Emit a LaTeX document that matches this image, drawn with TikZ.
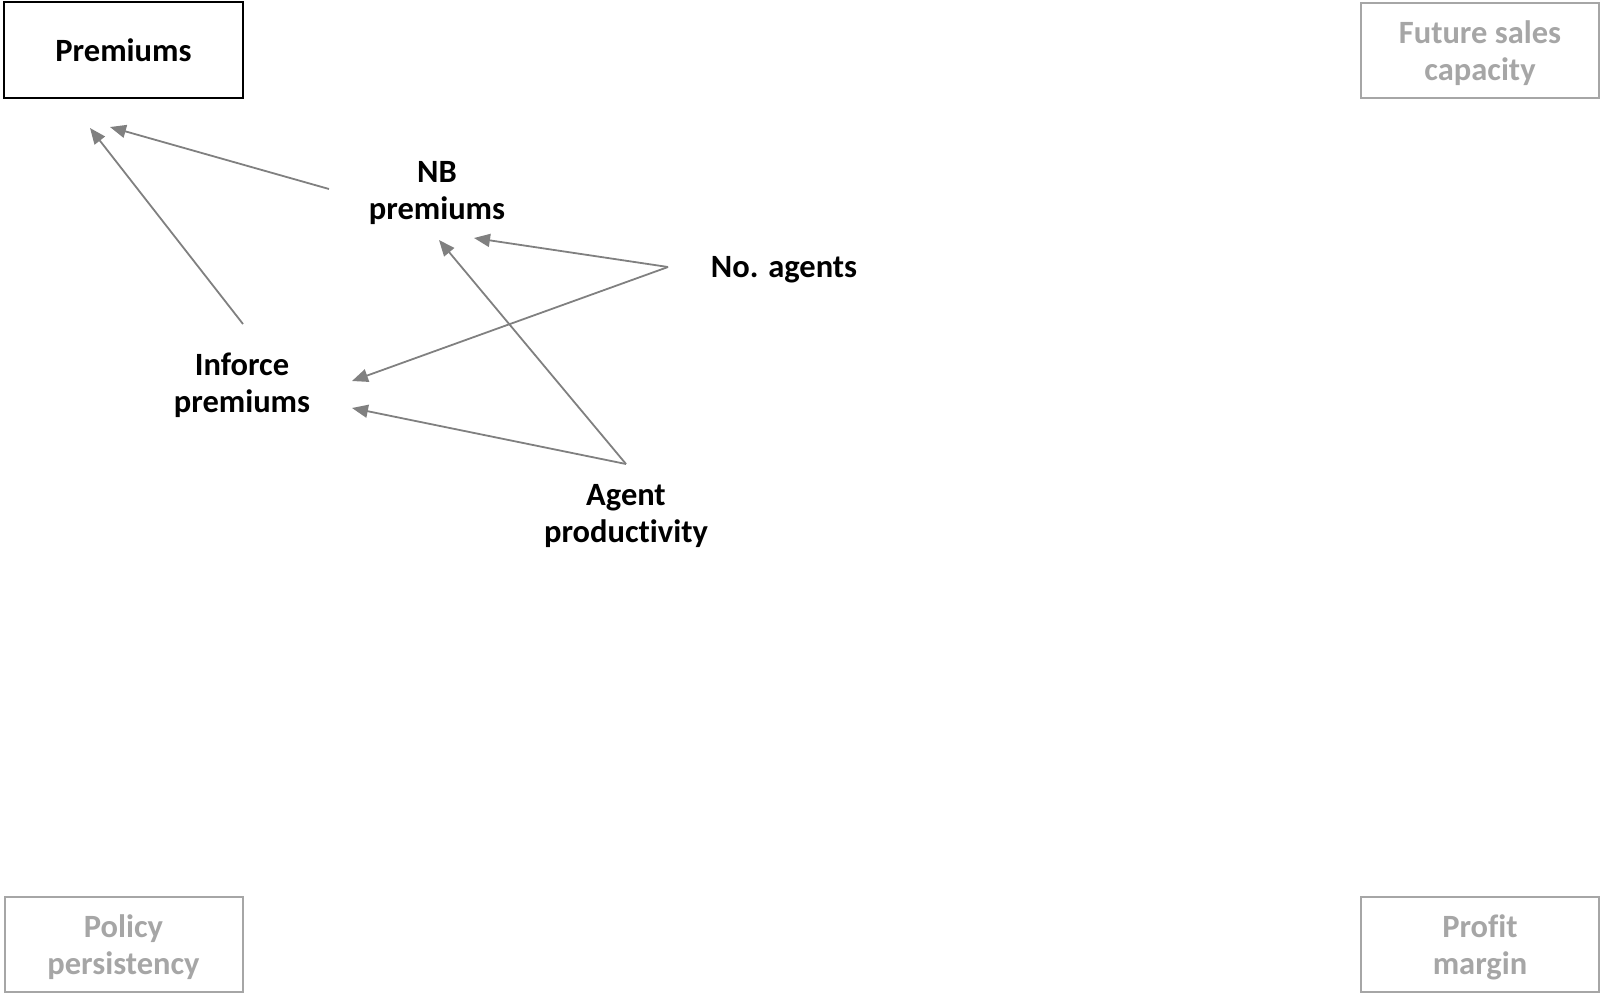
\documentclass[tikz,border=0pt]{standalone}
\usepackage{fontspec}
\setmainfont{Carlito}[Ligatures={NoCommon,NoContextual}, RawFeature={-liga;-clig;-dlig}]
\usetikzlibrary{arrows.meta}
\definecolor{linkgray}{HTML}{808080}
\definecolor{mutedgray}{HTML}{A6A6A6}
\begin{document}
\begin{tikzpicture}[x=1pt,y=-1pt,
  lbl/.style={font=\fontsize{32.5}{37}\selectfont\bfseries, align=center, inner sep=0pt},
  mutedlbl/.style={lbl, text=mutedgray},
  mainbox/.style={draw=black, line width=2pt, minimum width=239pt, minimum height=96pt, inner sep=0pt},
  sidebox/.style={draw=mutedgray, line width=2pt, minimum width=238pt, minimum height=95pt, inner sep=0pt},
  link/.style={draw=linkgray, line width=1.8pt, -{Triangle[length=16pt,width=13pt]}}]
\useasboundingbox (0,0) rectangle (1600,994);

% corner boxes
\node[mainbox, lbl] (prem) at (123.5,50) {Premiums};
\node[sidebox] (fsc) at (1480,50) {};
\node[sidebox] (pp) at (123.5,944.5) {};
\node[sidebox] (pm) at (1480,944.5) {};
\node[mutedlbl] (fscText) at ([yshift=-3pt]fsc.center) {Future sales\\capacity};
\node[mutedlbl] (ppText) at ([yshift=-3pt]pp.center) {Policy\\persistency};
\node[mutedlbl] (pmText) at ([yshift=-3pt]pm.center) {Profit\\margin};

% driver labels
\node[lbl] (nb) at (437,193) {NB\\premiums};
\node[lbl] (agents) at (784,270) {No. agents};
\node[lbl] (inf) at (242,385) {Inforce\\premiums};
\node[lbl] (prod) at (626,516) {Agent\\productivity};

% connector ends
\coordinate (nbOut) at (329,189);
\coordinate (nbIn) at (474,238);
\coordinate (nbIn2) at (439,240);
\coordinate (premIn1) at (110,127);
\coordinate (premIn2) at (90,128);
\coordinate (infOut) at (243,324);
\coordinate (infIn1) at (352,381);
\coordinate (infIn2) at (352,408);
\coordinate (agOut) at (668,267);
\coordinate (prOut) at (626,464);

\draw[link] (nbOut) -- (premIn1);
\draw[link] (infOut) -- (premIn2);
\draw[link] (agOut) -- (nbIn);
\draw[link] (agOut) -- (infIn1);
\draw[link] (prOut) -- (nbIn2);
\draw[link] (prOut) -- (infIn2);
\end{tikzpicture}
\end{document}
